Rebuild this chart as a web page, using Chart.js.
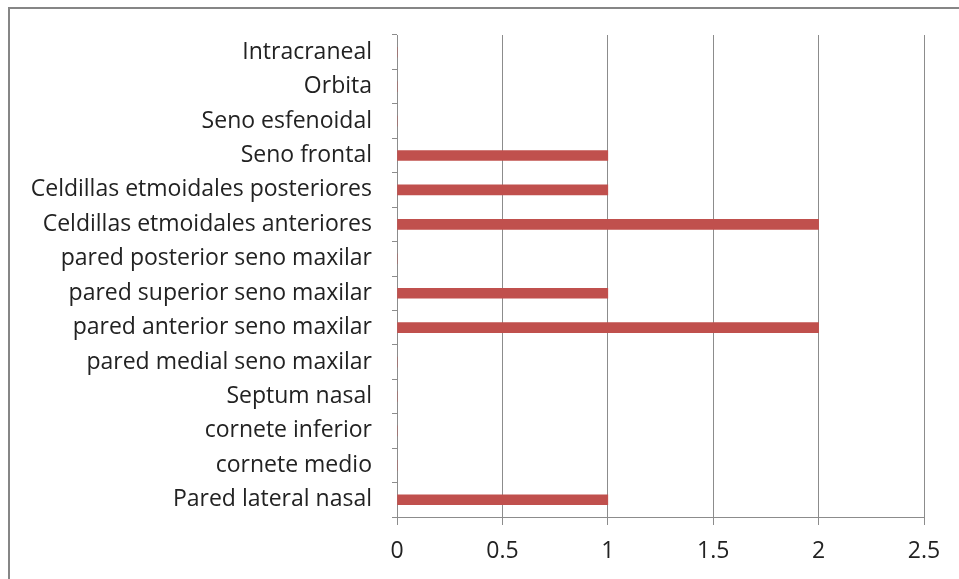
<!DOCTYPE html>
<html><head><meta charset="utf-8">
<script src="https://cdn.jsdelivr.net/npm/chart.js@4"></script>
<style>
html,body{margin:0;padding:0;background:#fff;width:959px;height:579px;overflow:hidden}
#frame{position:absolute;left:8px;top:7px;width:1000px;height:700px;border:2px solid #868686;box-sizing:border-box}
#wrap{position:absolute;left:0;top:0;width:959px;height:579px}
</style></head><body>
<div id="frame"></div>
<div id="wrap"><canvas id="c" width="959" height="579"></canvas></div>
<script>
const categories = ["Intracraneal","Orbita","Seno esfenoidal","Seno frontal","Celdillas etmoidales posteriores","Celdillas etmoidales anteriores","pared posterior seno maxilar","pared superior seno maxilar","pared anterior seno maxilar","pared medial seno maxilar","Septum nasal","cornete inferior","cornete medio","Pared lateral nasal"];
const values = [0,0,0,1,1,2,0,1,2,0,0,0,0,1];
const xTicks = [0,0.5,1,1.5,2,2.5];

const font = {family:"'Open Sans', sans-serif", size:23};
new Chart(document.getElementById('c'), {
  type:'bar',
  data:{labels:categories, datasets:[{data:values, backgroundColor:'#C0504D', barThickness:10, borderWidth:0}]},
  options:{
    indexAxis:'y', responsive:false, animation:false,
    layout:{padding:{left:0,right:35,top:35,bottom:0}},
    plugins:{legend:{display:false}, tooltip:{enabled:false}},
    scales:{
      x:{min:0,max:2.5,
        afterBuildTicks:s=>{s.ticks=xTicks.map(v=>({value:v}));},
        afterFit:s=>{s.height=62;},
        grid:{color:'#8c8c8c',lineWidth:1,tickLength:8,drawTicks:true},
        border:{color:'#8c8c8c',width:1},
        ticks:{color:'#222',font:font,padding:13,maxRotation:0,callback:v=>String(v)}},
      y:{afterFit:s=>{s.width=397;},
        grid:{offset:true,drawOnChartArea:false,color:'#8c8c8c',tickLength:5},
        border:{color:'#8c8c8c',width:1},
        ticks:{color:'#222',font:font,padding:20,autoSkip:false}}
    }
  }
});
</script></body></html>
